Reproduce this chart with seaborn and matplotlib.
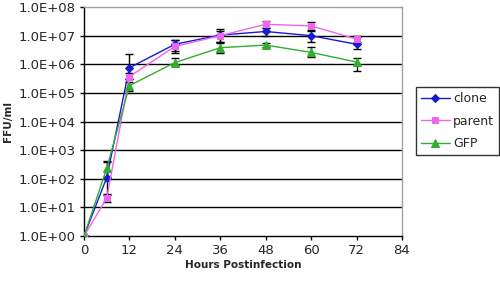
import numpy as np
import pandas as pd
import matplotlib
matplotlib.use("Agg")
import matplotlib.pyplot as plt
import seaborn as sns
from matplotlib.ticker import FixedLocator, FuncFormatter

hours = [0, 6, 12, 24, 36, 48, 60, 72]
series_names = ["clone", "parent", "GFP"]

clone = [1, 110, 7.6e5, 5.0e6, 1.05e7, 1.4e7, 1.0e7, 5.0e6]
clone_lo = [1, 30, 3.0e5, 3.0e6, 6.0e6, 1.0e7, 6.0e6, 3.3e6]
clone_hi = [1, 420, 2.3e6, 7.0e6, 1.7e7, 1.8e7, 1.4e7, 9.5e6]

parent = [1, 21, 3.7e5, 4.2e6, 1.0e7, 2.5e7, 2.2e7, 7.6e6]
parent_lo = [1, 15, 3.0e5, 2.5e6, 6.0e6, 1.8e7, 1.6e7, 6.0e6]
parent_hi = [1, 28, 5.0e5, 7.0e6, 1.4e7, 3.3e7, 3.1e7, 9.0e6]

gfp = [1, 230, 1.8e5, 1.15e6, 3.8e6, 4.7e6, 2.6e6, 1.2e6]
gfp_lo = [1, 120, 1.2e5, 9.4e5, 2.4e6, 4.0e6, 1.76e6, 5.9e5]
gfp_hi = [1, 400, 2.5e5, 1.6e6, 5.7e6, 5.5e6, 4.1e6, 1.7e6]

y_ticks = [1e0, 1e1, 1e2, 1e3, 1e4, 1e5, 1e6, 1e7, 1e8]
x_ticks = [0, 12, 24, 36, 48, 60, 72, 84]

values = {"clone": (clone, clone_lo, clone_hi),
          "parent": (parent, parent_lo, parent_hi),
          "GFP": (gfp, gfp_lo, gfp_hi)}

rows = []
for name in series_names:
    for h, v in zip(hours, values[name][0]):
        rows.append({"Hours": h, "FFU": v, "series": name})
df = pd.DataFrame(rows)

sns.set_theme(style="white")
plt.rcParams["font.family"] = ["DejaVu Sans"]

colors = {"clone": "#1a1acc", "parent": "#ee66ee", "GFP": "#2fae2f"}
markers = {"clone": "D", "parent": "s", "GFP": "^"}
msizes = {"clone": 4.5, "parent": 5, "GFP": 6}

fig = plt.figure(figsize=(5.0, 2.82), dpi=100)
ax = fig.add_axes([0.168, 0.163, 0.636, 0.812])

for name in series_names:
    sub = df[df.series == name]
    v, lo, hi = values[name]
    v = np.array(v); lo = np.array(lo); hi = np.array(hi)
    ax.errorbar(hours, v, yerr=[v - lo, hi - v], fmt="none", ecolor="black",
                elinewidth=1.0, capsize=3, capthick=1.0, zorder=3)
    sns.lineplot(data=sub, x="Hours", y="FFU", ax=ax, color=colors[name],
                 marker=markers[name], markersize=msizes[name],
                 markeredgecolor=colors[name], linewidth=1.0, label=name,
                 zorder=4, errorbar=None)

ax.set_yscale("log")
ax.set_ylim(1, 1e8)
ax.set_xlim(0, 84)
ax.yaxis.set_major_locator(FixedLocator(y_ticks))
ax.yaxis.set_minor_locator(FixedLocator([]))
ax.yaxis.set_major_formatter(FuncFormatter(lambda v, p: "1.0E+%02d" % int(round(np.log10(v)))))
ax.set_xticks(x_ticks)
ax.set_xticklabels([str(t) for t in x_ticks])

for t in y_ticks[1:-1]:
    ax.axhline(t, color="black", linewidth=1.0, zorder=1)

for side in ["top", "right"]:
    ax.spines[side].set_color("#a0a0a0")
    ax.spines[side].set_linewidth(1.0)
for side in ["left", "bottom"]:
    ax.spines[side].set_color("black")
    ax.spines[side].set_linewidth(1.0)

ax.tick_params(axis="x", direction="out", length=3, width=1, color="black",
               labelsize=9.5, pad=3, bottom=True)
ax.tick_params(axis="y", direction="out", length=3, width=1, color="black",
               labelsize=9.5, pad=3, left=True)

ax.set_xlabel("Hours Postinfection", fontsize=7.5, fontweight="bold", labelpad=2)
ax.set_ylabel("FFU/ml", fontsize=7.5, fontweight="bold", labelpad=4)

leg = ax.legend(loc="upper left", bbox_to_anchor=(1.044, 0.65), frameon=True,
                fancybox=False, edgecolor="black", fontsize=9, handlelength=2.3,
                handletextpad=0.25, borderpad=0.4, labelspacing=0.75,
                borderaxespad=0)
leg.get_frame().set_linewidth(1.0)

fig.savefig("out.png", dpi=100)
